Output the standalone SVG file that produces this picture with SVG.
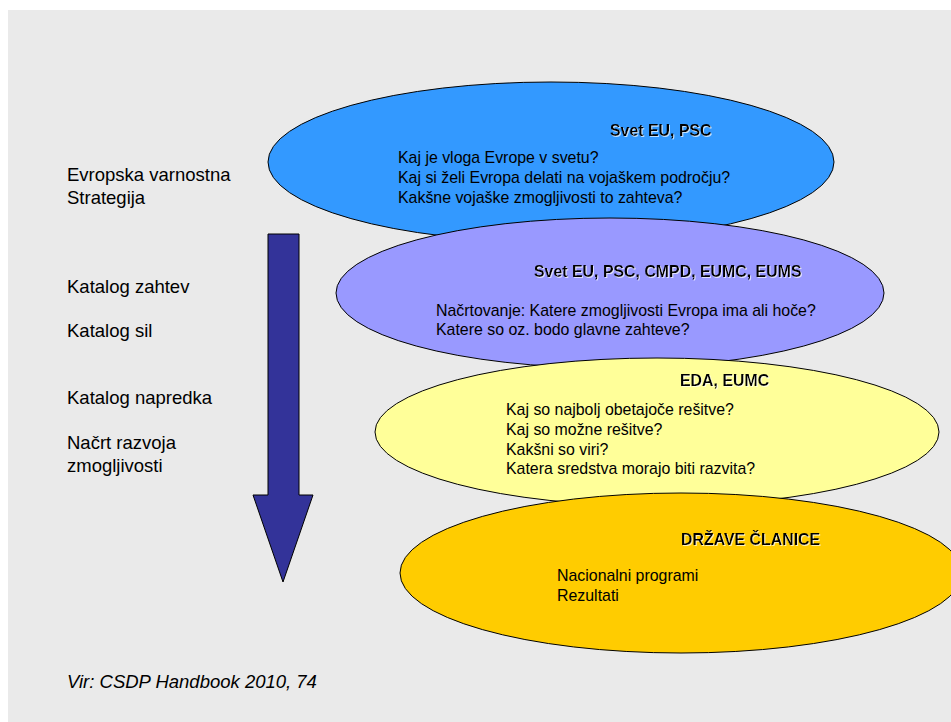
<svg xmlns="http://www.w3.org/2000/svg" width="951" height="722" viewBox="0 0 951 722">
<style>
.lbl{font-family:"Liberation Sans",Arial,sans-serif;font-size:18.5px;fill:#000}
.t{font-family:"Liberation Sans",Arial,sans-serif;font-size:15.9px;fill:#000}
.h{font-family:"Liberation Sans",Arial,sans-serif;font-size:15.9px;font-weight:bold;fill:#000;filter:url(#sh)}
.e{stroke:#000;stroke-width:1}
</style>
<defs>
<filter id="sh" x="-10%" y="-30%" width="120%" height="160%">
<feDropShadow dx="1" dy="1" stdDeviation="0" flood-color="#ffffff" flood-opacity="0.7"/>
</filter>
</defs>
<rect x="0" y="0" width="951" height="722" fill="#ffffff"/>
<rect x="8" y="10" width="943" height="712" fill="#eaeaea"/>
<g id="labels">
<text class="lbl" x="67" y="181">Evropska varnostna</text>
<text class="lbl" x="67" y="204">Strategija</text>
<text class="lbl" x="67" y="293">Katalog zahtev</text>
<text class="lbl" x="67" y="337">Katalog sil</text>
<text class="lbl" x="67" y="404">Katalog napredka</text>
<text class="lbl" x="67" y="449">Načrt razvoja</text>
<text class="lbl" x="67" y="472">zmogljivosti</text>
<text class="lbl" x="67" y="688" font-style="italic">Vir: CSDP Handbook 2010, 74</text>
</g>
<g id="connectors">
<polygon points="268,234 299,234 299,495 313,495 283,582 253,495 268,495" fill="#333399" stroke="#000" stroke-width="1"/>
</g>
<g id="node-svet">
<ellipse class="e" cx="551" cy="162" rx="283" ry="80" fill="#3399ff"/>
<text class="h" x="610" y="136">Svet EU, PSC</text>
<text class="t" x="398" y="163">Kaj je vloga Evrope v svetu?</text>
<text class="t" x="398" y="183">Kaj si želi Evropa delati na vojaškem področju?</text>
<text class="t" x="398" y="203">Kakšne vojaške zmogljivosti to zahteva?</text>
</g>
<g id="node-planning">
<ellipse class="e" cx="610" cy="293" rx="274" ry="75" fill="#9999ff"/>
<text class="h" x="534" y="277">Svet EU, PSC, CMPD, EUMC, EUMS</text>
<text class="t" x="436" y="316">Načrtovanje: Katere zmogljivosti Evropa ima ali hoče?</text>
<text class="t" x="436" y="335">Katere so oz. bodo glavne zahteve?</text>
</g>
<g id="node-eda">
<ellipse class="e" cx="657" cy="432" rx="282" ry="74" fill="#ffff99"/>
<text class="h" x="680" y="386">EDA, EUMC</text>
<text class="t" x="506" y="415">Kaj so najbolj obetajoče rešitve?</text>
<text class="t" x="506" y="435">Kaj so možne rešitve?</text>
<text class="t" x="506" y="455">Kakšni so viri?</text>
<text class="t" x="506" y="474">Katera sredstva morajo biti razvita?</text>
</g>
<g id="node-drzave">
<ellipse class="e" cx="681" cy="573" rx="281" ry="80" fill="#ffcc00"/>
<text class="h" x="681" y="545">DRŽAVE ČLANICE</text>
<text class="t" x="557" y="581">Nacionalni programi</text>
<text class="t" x="557" y="601">Rezultati</text>
</g>
</svg>
